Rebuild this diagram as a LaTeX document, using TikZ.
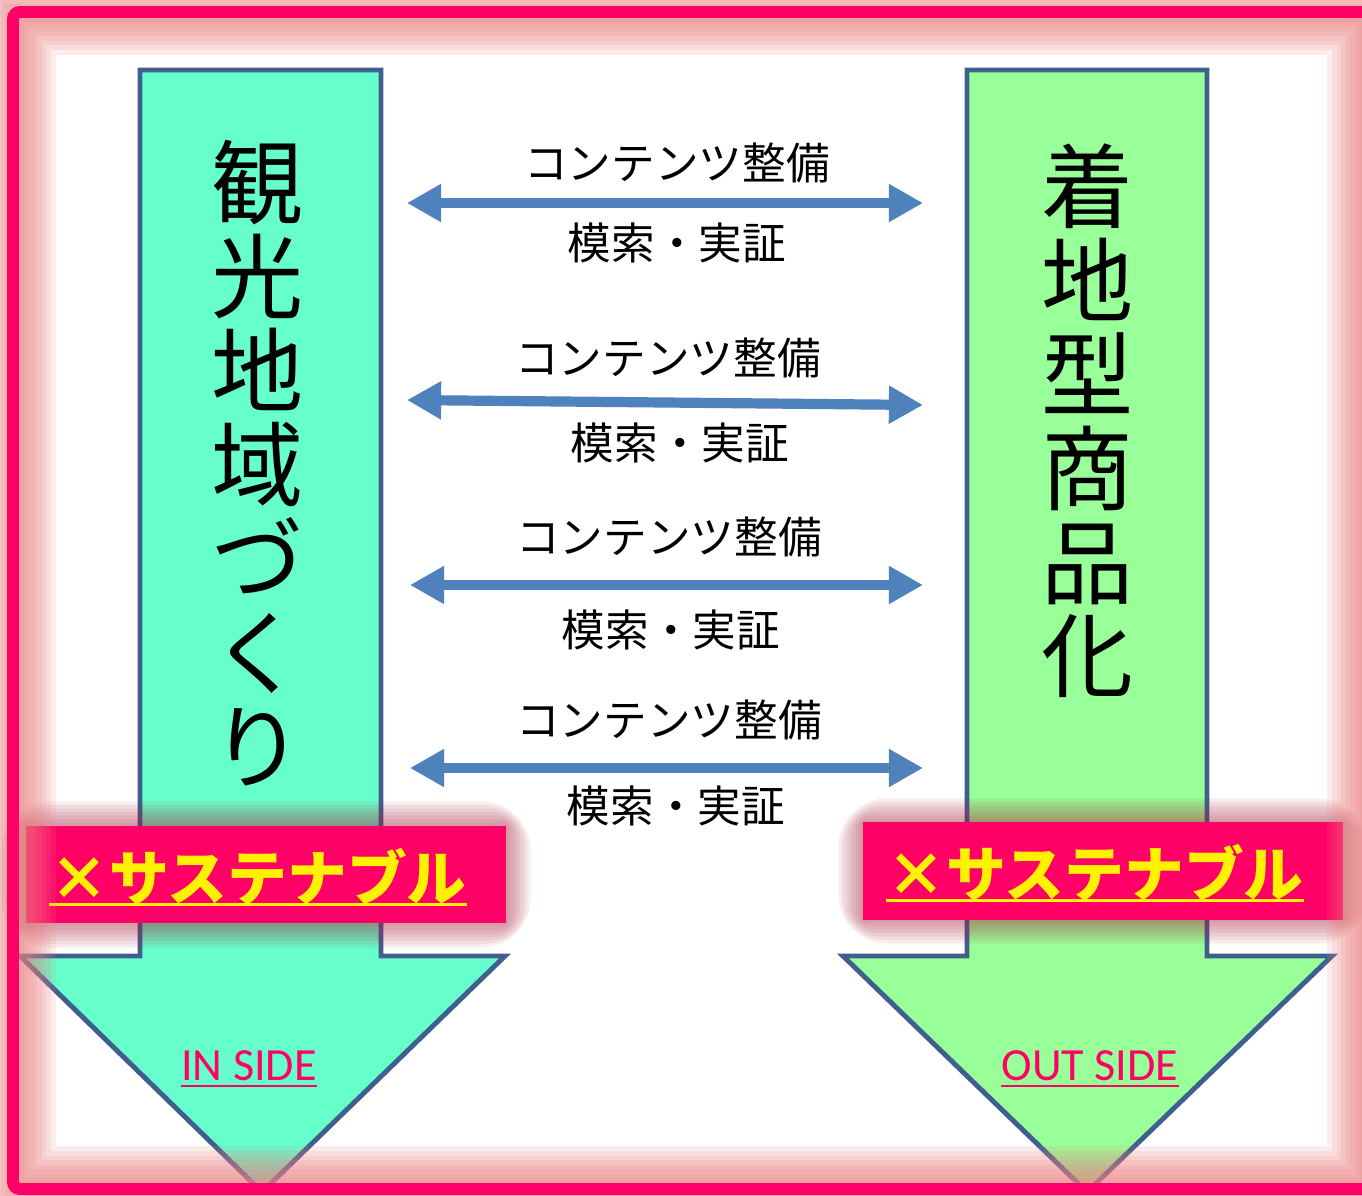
\documentclass[tikz,border=0pt]{standalone}
\usepackage{fontspec}
\setmainfont{Noto Sans CJK JP}
\newfontfamily\latinside{Carlito}
\usetikzlibrary{positioning, arrows.meta, calc}
\definecolor{hotpink}{HTML}{FF0066}
\definecolor{glowpink}{RGB}{236,128,128}
\definecolor{inaqua}{HTML}{66FFCC}
\definecolor{outgreen}{HTML}{99FF99}
\definecolor{edgeblue}{HTML}{3F5F8E}
\definecolor{linkblue}{HTML}{4F81BD}
\definecolor{shadowred}{RGB}{170,30,60}

\begin{document}
\begin{tikzpicture}[
    x=0.01cm, y=-0.01cm,
    bigarrow/.style={draw=edgeblue, line width=1.4pt, line join=miter},
    vtext/.style={align=center, inner sep=0pt, font=\fontsize{26.2}{26.7}\selectfont},
    lbl/.style={inner sep=0pt, font=\fontsize{12.4}{14}\selectfont},
    dbl/.style={linkblue, line width=2.9pt, {Triangle[length=9.7pt,width=10.2pt]}-{Triangle[length=9.7pt,width=10.2pt]}},
    susbox/.style={fill=hotpink, minimum width=4.8cm, minimum height=0.97cm, inner sep=0pt},
    sustxt/.style={text=yellow, inner sep=0pt, anchor=base, font=\bfseries\fontsize{17}{20}\selectfont},
    sidetxt/.style={text=hotpink, inner sep=0pt, anchor=base, font=\latinside\fontsize{13.1}{15}\selectfont}
]
    \useasboundingbox (0,0) rectangle (1362,1196);
    \fill[white] (0,0) rectangle (1362,1196);

    \draw[bigarrow, fill=inaqua] (140,70) -- (381,70) -- (381,956) -- (505,956) -- (262,1192) -- (20,956) -- (140,956) -- cycle;
    \draw[bigarrow, fill=outgreen] (967,70) -- (1207,70) -- (1207,956) -- (1332,956) -- (1087,1192) -- (843,956) -- (967,956) -- cycle;

    \node[vtext] (inside) at (258,463) {観\\光\\地\\域\\づ\\く\\り};
    \node[vtext] (outside) at (1088,421) {着\\地\\型\\商\\品\\化};

    \foreach \i/\la/\ra/\xl in {1/203/203/407, 2/400/405/407, 3/585/585/410, 4/768/768/410} {
        \coordinate (l\i) at (\xl,\la);
        \coordinate (r\i) at (923,\ra);
        \draw[dbl] (l\i) -- (r\i);
    }
    \foreach \i/\tx/\ty/\bx/\by in {1/677/163/677/243, 2/668/358/680/443, 3/669/537/671/630, 4/669/720/676/806} {
        \node[lbl] (prep\i) at (\tx,\ty) {コンテンツ整備};
        \node[lbl] (test\i) at (\bx,\by) {模索・実証};
    }

    \foreach \n/\xa/\ya/\xb/\yb/\tx/\ty in {L/26/826/506/923/258/900, R/863/823/1343/919/1095/896} {
        \foreach \k in {1,...,7}
            \draw[shadowred, opacity=0.08, line width=\k*2pt, rounded corners=\k*1pt] (\xa,\ya) rectangle (\xb,\yb);
        \node[susbox] (sus\n) at ({(\xa+\xb)/2},{(\ya+\yb)/2}) {};
        \node[sustxt] (sustxt\n) at (\tx,\ty) {×サステナブル};
        \draw[yellow, line width=0.9pt] ([yshift=-1.2pt]sustxt\n.base west) -- ([yshift=-1.2pt]sustxt\n.base east);
    }

    \node[sidetxt] (inlbl) at (249,1080) {IN SIDE};
    \node[sidetxt] (outlbl) at (1090,1080) {OUT SIDE};
    \draw[hotpink, line width=0.6pt] ([yshift=-1.7pt]inlbl.base west) -- ([yshift=-1.7pt]inlbl.base east);
    \draw[hotpink, line width=0.6pt] ([yshift=-1.7pt]outlbl.base west) -- ([yshift=-1.7pt]outlbl.base east);

    \foreach \k in {1,...,8}
        \draw[glowpink, opacity=0.14, line width=\k*2.6pt] (19,18) rectangle (1364,1183);
    \draw[hotpink, line width=3.4pt, rounded corners=2pt] (13,12) rectangle (1370,1189);
\end{tikzpicture}
\end{document}
